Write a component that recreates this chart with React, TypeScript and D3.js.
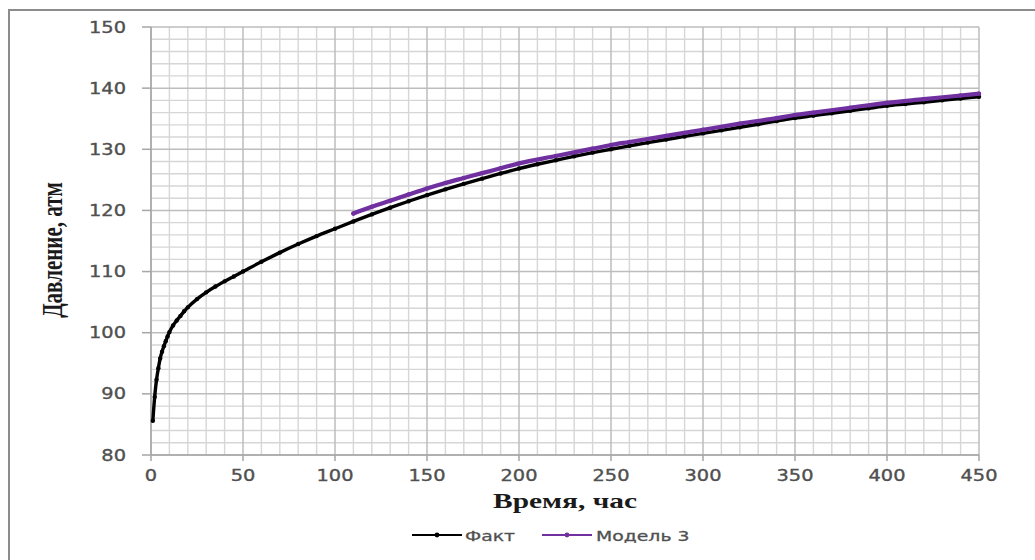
import React from "react";
import * as d3 from "d3";

// Measured pressure (Факт): [time, h ; pressure, atm]
const factTime = [
  1, 2, 3, 4, 5, 6, 7, 8, 9, 10, 12, 14, 16, 18, 20, 25, 30, 35, 40, 45, 50,
  60, 70, 80, 90, 100, 110, 120, 130, 140, 150, 160, 170, 180, 190, 200, 210,
  220, 230, 240, 250, 260, 270, 280, 290, 300, 310, 320, 330, 340, 350, 360,
  370, 380, 390, 400, 410, 420, 430, 440, 450,
];
const factPressure = [
  85.6, 89.5, 92.3, 94.2, 95.8, 96.9, 97.8, 98.6, 99.4, 100.1, 101.2, 102.0,
  102.75, 103.5, 104.15, 105.5, 106.6, 107.55, 108.4, 109.2, 110.0, 111.6,
  113.1, 114.5, 115.8, 117.0, 118.2, 119.35, 120.45, 121.5, 122.5, 123.45,
  124.35, 125.2, 126.05, 126.85, 127.55, 128.2, 128.85, 129.45, 130.0, 130.55,
  131.1, 131.6, 132.1, 132.6, 133.1, 133.6, 134.1, 134.6, 135.1, 135.5, 135.9,
  136.3, 136.7, 137.1, 137.4, 137.7, 138.0, 138.3, 138.6,
];

// Model 3 forecast
const modelTime = [
  110, 120, 130, 140, 150, 160, 170, 180, 190, 200, 220, 240, 250, 260, 280,
  300, 320, 340, 350, 360, 380, 400, 420, 440, 450,
];
const modelPressure = [
  119.5, 120.6, 121.6, 122.6, 123.6, 124.5, 125.3, 126.1, 126.9, 127.7, 128.9,
  130.1, 130.7, 131.2, 132.2, 133.2, 134.2, 135.1, 135.6, 136.0, 136.8, 137.6,
  138.2, 138.8, 139.1,
];

const xTicks = [0, 50, 100, 150, 200, 250, 300, 350, 400, 450];
const yTicks = [80, 90, 100, 110, 120, 130, 140, 150];
const xTitle = "Время, час";
const yTitle = "Давление, атм";
const seriesNames = ["Факт", "Модель 3"];

const FACT_COLOR = "#000000";
const MODEL_COLOR = "#7030A0";
const LABEL_COLOR = "#505050";
const SANS = "'DejaVu Sans', Verdana, sans-serif";
const SERIF = "'Liberation Serif', 'Times New Roman', serif";

export default function App() {
  const W = 1035;
  const H = 560;
  const x = d3.scaleLinear().domain([0, 450]).range([151, 979]);
  const y = d3.scaleLinear().domain([80, 150]).range([455, 27]);

  const fact = factTime.map((t, i) => [t, factPressure[i]] as [number, number]);
  const model = modelTime.map((t, i) => [t, modelPressure[i]] as [number, number]);

  const line = d3
    .line<[number, number]>()
    .x((d) => x(d[0]))
    .y((d) => y(d[1]))
    .curve(d3.curveMonotoneX);

  const minorX = d3.range(0, 451, 10).filter((v) => v % 50 !== 0);
  const minorY = d3.range(80, 151, 2).filter((v) => v % 10 !== 0);

  const [x0, x1] = x.range();
  const [y0, y1] = y.range();

  return (
    <svg
      width={W}
      height={H}
      style={{ position: "absolute", left: 0, top: 0, background: "#fff" }}
    >
      {/* chart frame */}
      <rect x={9} y={10} width={1040} height={H} fill="#fff" stroke="#8c8c8c" strokeWidth={2} />

      {/* minor grid */}
      <g stroke="#d6d6d6" strokeWidth={1.4}>
        {minorX.map((v) => (
          <line key={"mx" + v} x1={x(v)} x2={x(v)} y1={y1} y2={y0} />
        ))}
        {minorY.map((v) => (
          <line key={"my" + v} x1={x0} x2={x1} y1={y(v)} y2={y(v)} />
        ))}
      </g>
      {/* major grid */}
      <g stroke="#bdbdbd" strokeWidth={1.5}>
        {xTicks.map((v) => (
          <line key={"Mx" + v} x1={x(v)} x2={x(v)} y1={y1} y2={y0} />
        ))}
        {yTicks.map((v) => (
          <line key={"My" + v} x1={x0} x2={x1} y1={y(v)} y2={y(v)} />
        ))}
      </g>

      {/* axes with tick marks */}
      <g stroke="#a6a6a6" strokeWidth={1.5}>
        <line x1={x0} x2={x0} y1={y1} y2={y0} />
        <line x1={x0} x2={x1} y1={y0} y2={y0} />
        {yTicks.map((v) => (
          <line key={"ty" + v} x1={x0 - 9} x2={x0} y1={y(v)} y2={y(v)} />
        ))}
        {xTicks.map((v) => (
          <line key={"tx" + v} x1={x(v)} x2={x(v)} y1={y0} y2={y0 + 6} />
        ))}
      </g>

      {/* tick labels */}
      <g
        fill={LABEL_COLOR}
        stroke={LABEL_COLOR}
        strokeWidth={0.35}
        fontFamily={SANS}
        fontSize={15.5}
      >
        {yTicks.map((v) => (
          <text
            key={"ly" + v}
            transform={`translate(126,${y(v)}) scale(1.25,1)`}
            textAnchor="end"
            dy="0.36em"
          >
            {v}
          </text>
        ))}
        {xTicks.map((v) => (
          <text
            key={"lx" + v}
            transform={`translate(${x(v)},481) scale(1.25,1)`}
            textAnchor="middle"
          >
            {v}
          </text>
        ))}
      </g>

      {/* axis titles */}
      <text
        transform={`translate(${(x0 + x1) / 2},508) scale(1.4,1)`}
        textAnchor="middle"
        fontFamily={SERIF}
        fontWeight="bold"
        fontSize={21}
        fill="#1a1a1a"
      >
        {xTitle}
      </text>
      <text
        transform={`translate(62,250) rotate(-90) scale(1,1.45)`}
        textAnchor="middle"
        fontFamily={SERIF}
        fontWeight="bold"
        fontSize={21}
        fill="#1a1a1a"
      >
        {yTitle}
      </text>

      {/* series: lines with point markers */}
      <path
        d={line(fact) ?? ""}
        fill="none"
        stroke={FACT_COLOR}
        strokeWidth={3.4}
        strokeLinejoin="round"
        strokeLinecap="round"
      />
      {fact.map((d, i) => (
        <circle key={"fp" + i} cx={x(d[0])} cy={y(d[1])} r={2.2} fill={FACT_COLOR} />
      ))}
      <path
        d={line(model) ?? ""}
        fill="none"
        stroke={MODEL_COLOR}
        strokeWidth={4.2}
        strokeLinejoin="round"
        strokeLinecap="round"
      />
      {model.map((d, i) => (
        <circle key={"mp" + i} cx={x(d[0])} cy={y(d[1])} r={2.2} fill={MODEL_COLOR} />
      ))}

      {/* legend */}
      <g fontFamily={SANS} fontSize={14.5} fill={LABEL_COLOR}>
        <line x1={412} x2={462} y1={535} y2={535} stroke={FACT_COLOR} strokeWidth={2} />
        <circle cx={437} cy={535} r={2.4} fill={FACT_COLOR} />
        <text transform="translate(465,541) scale(1.3,1)" stroke={LABEL_COLOR} strokeWidth={0.3}>
          {seriesNames[0]}
        </text>
        <line x1={542} x2={592} y1={535} y2={535} stroke={MODEL_COLOR} strokeWidth={2} />
        <circle cx={567} cy={535} r={2.4} fill={MODEL_COLOR} />
        <text transform="translate(596,541) scale(1.3,1)" stroke={LABEL_COLOR} strokeWidth={0.3}>
          {seriesNames[1]}
        </text>
      </g>
    </svg>
  );
}
